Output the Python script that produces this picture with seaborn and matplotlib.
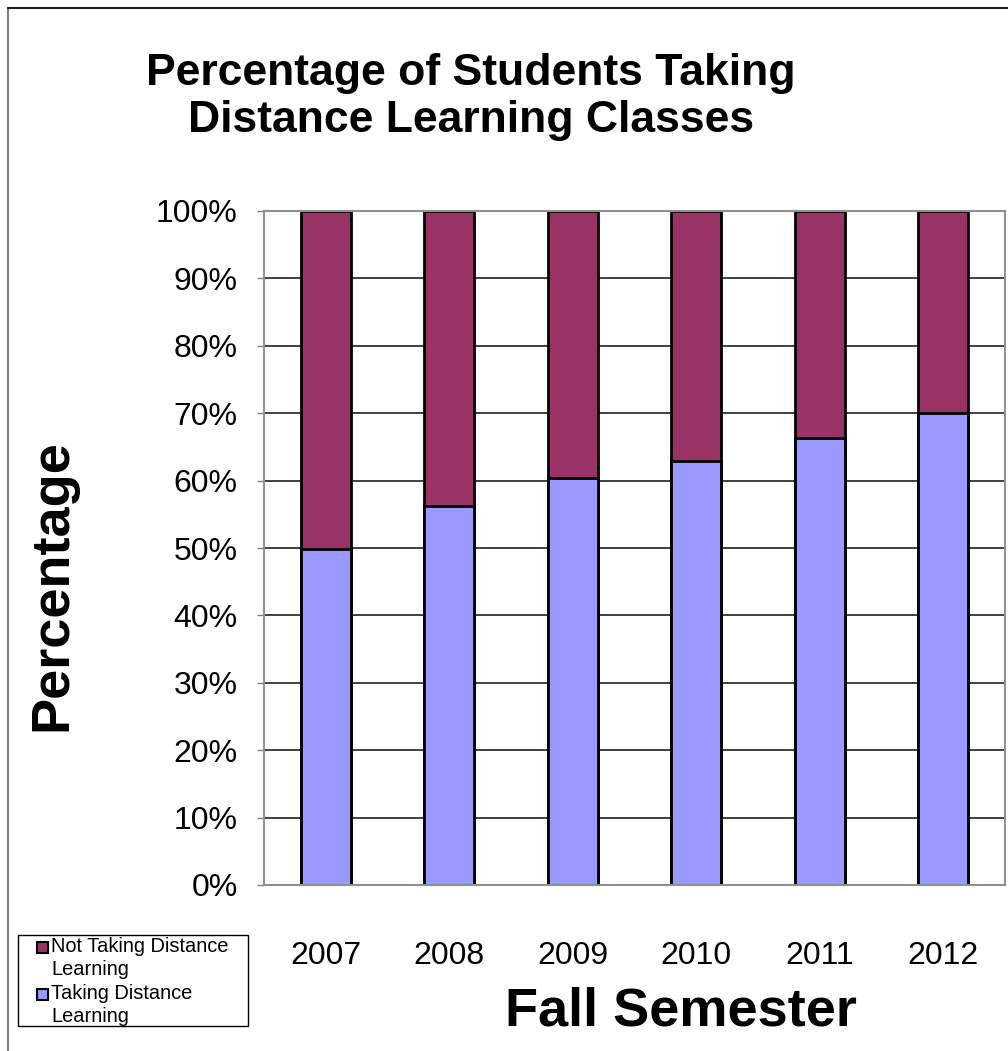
import numpy as np
import pandas as pd
import matplotlib.pyplot as plt
import seaborn as sns
from matplotlib.patches import Rectangle

sns.set_theme(style="white")
plt.rcParams["font.family"] = ["Liberation Sans", "DejaVu Sans"]
plt.rcParams["text.color"] = "black"

# data
years = ["2007", "2008", "2009", "2010", "2011", "2012"]
taking = [49.8, 56.2, 60.4, 62.9, 66.3, 70.0]
not_taking = [100 - v for v in taking]
series_names = ["Not Taking Distance\nLearning", "Taking Distance\nLearning"]

MAROON = "#993366"
PERIWINKLE = "#9999FF"

df = pd.DataFrame({"Year": years, "Taking": taking, "Not": not_taking})
df["Total"] = df["Taking"] + df["Not"]

W, H = 1008, 1051
fig = plt.figure(figsize=(W / 100, H / 100), dpi=100)
ax = fig.add_axes([264 / W, 1 - 885 / H, (1005 - 264) / W, (885 - 211) / H])

# stacked bars: total first, then the lower part on top
sns.barplot(data=df, x="Year", y="Total", color=MAROON, saturation=1,
            width=0.405, edgecolor="black", linewidth=2, ax=ax)
sns.barplot(data=df, x="Year", y="Taking", color=PERIWINKLE, saturation=1,
            width=0.405, edgecolor="black", linewidth=2, ax=ax)

ax.set_xlim(-0.5, 5.5)
ax.set_ylim(0, 100)
ax.set_yticks(np.arange(0, 101, 10))
ax.set_yticklabels([f"{v}%" for v in range(0, 101, 10)], fontsize=23)
ax.set_xticks(range(len(years)))
ax.set_xticklabels(years, fontsize=23)
ax.set_xticks(np.arange(-0.5, 6, 1), minor=True)
ax.tick_params(axis="x", which="major", length=0, pad=40, labelcolor="black")
ax.tick_params(axis="x", which="minor", length=8, width=1, color="#808080", direction="out")
ax.tick_params(axis="y", length=5, width=1, color="#808080", direction="out", pad=14,
               left=True, labelcolor="black")

ax.grid(axis="y", color="#202020", linewidth=1.2)
ax.set_axisbelow(True)
for side in ["top", "right", "left", "bottom"]:
    ax.spines[side].set_color("#909090")
    ax.spines[side].set_linewidth(1.5)

ax.set_xlabel("")
ax.set_ylabel("")

fig.text(471 / W, 1 - 97 / H, "Percentage of Students Taking\nDistance Learning Classes",
         ha="center", va="center", fontsize=32, fontweight="bold", linespacing=1.2)
fig.text(52 / W, 1 - 585 / H, "Percentage", rotation=90, ha="center", va="center",
         fontsize=39, fontweight="bold")
fig.text(681 / W, 1 - 1012 / H, "Fall Semester", ha="center", va="center",
         fontsize=39, fontweight="bold")

# figure border (top and left visible)
fig.add_artist(plt.Line2D([8 / W, 8 / W], [0, 1 - 8 / H], transform=fig.transFigure,
                          color="#808080", linewidth=1.5))
fig.add_artist(plt.Line2D([8 / W, 1], [1 - 8 / H, 1 - 8 / H], transform=fig.transFigure,
                          color="#202020", linewidth=1.5))

# legend box drawn in figure pixels
fig.add_artist(Rectangle((18 / W, 1 - 1026 / H), 230 / W, 91 / H, transform=fig.transFigure,
                         facecolor="white", edgecolor="black", linewidth=1))
for i, (name, col) in enumerate(zip(series_names, [MAROON, PERIWINKLE])):
    y_top = 937 + i * 47
    fig.add_artist(Rectangle((37 / W, 1 - (y_top + 16) / H), 11 / W, 11 / H,
                             transform=fig.transFigure, facecolor=col,
                             edgecolor="black", linewidth=1.5))
    fig.text(51 / W, 1 - y_top / H, name, ha="left", va="top", fontsize=14.4,
             linespacing=1.25)

fig.savefig("out.png", dpi=100)
